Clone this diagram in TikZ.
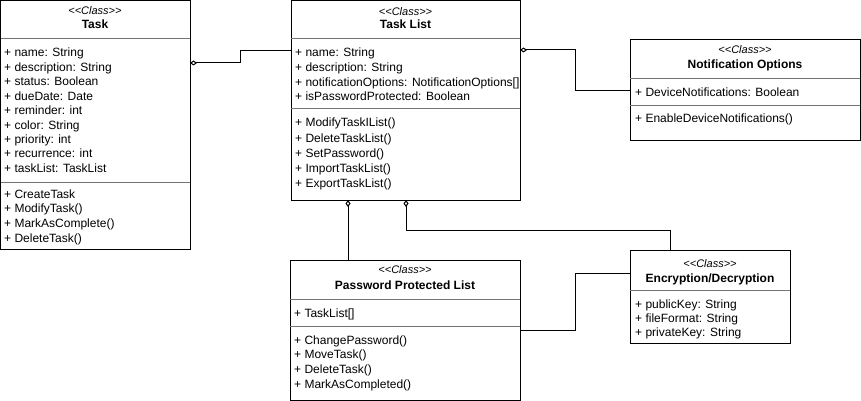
\documentclass[tikz,border=0pt]{standalone}
\usepackage{fontspec}
\setmainfont{Liberation Sans}
\usetikzlibrary{positioning,arrows.meta,calc}

\newcommand{\stclass}{<\kern0pt<Class>\kern0pt>}

\tikzset{
    classbox/.style={draw, line width=1pt, anchor=north west, inner sep=0pt, outer sep=0pt},
    compsep/.style={draw=black!55, line width=1pt},
    stereo/.style={anchor=base, inner sep=0pt, font=\fontsize{11}{13}\selectfont\itshape},
    ctitle/.style={anchor=base, inner sep=0pt, font=\fontsize{12}{14}\selectfont\bfseries},
    member/.style={anchor=base west, inner sep=0pt, font=\fontsize{12}{14}\selectfont},
    assoc/.style={draw, line width=1pt},
    aggr/.style={assoc, {Diamond[open, length=7pt, width=5pt]}-}
}

\begin{document}
\begin{tikzpicture}[x=1pt, y=-1pt]
    \useasboundingbox (0,0) rectangle (861,401);

    % Task
    \node[classbox, minimum width=189.5pt, minimum height=248.5pt] (task) at (0.5,0.5) {};
    \draw[compsep] (0.5,39) -- (190,39);
    \draw[compsep] (0.5,182) -- (190,182);
    \node[stereo] (task-st) at (95,15) {\stclass};
    \node[ctitle] (task-t) at (95,28.5) {Task};
    \foreach \m [count=\i from 0] in {name: String, description: String, status: Boolean,
        dueDate: Date, reminder: int, color: String, priority: int, recurrence: int,
        taskList: TaskList} {
        \node[member] (task-a\i) at (4,57+14.4*\i) {+ \m};
    }
    \foreach \m [count=\i from 0] in {CreateTask, ModifyTask(), MarkAsComplete(), DeleteTask()} {
        \node[member] (task-o\i) at (4,198+14.8*\i) {+ \m};
    }

    % Task List
    \node[classbox, minimum width=229pt, minimum height=199.5pt] (tasklist) at (291,0.5) {};
    \draw[compsep] (291,39) -- (520,39);
    \draw[compsep] (291,109) -- (520,109);
    \node[stereo] (tl-st) at (405.5,16) {\stclass};
    \node[ctitle] (tl-t) at (405.5,29) {Task List};
    \foreach \m [count=\i from 0] in {name: String, description: String,
        notificationOptions: NotificationOptions[], isPasswordProtected: Boolean} {
        \node[member] (tl-a\i) at (295,57+14.6*\i) {+ \m};
    }
    \foreach \m [count=\i from 0] in {ModifyTaskIList(), DeleteTaskList(), SetPassword(),
        ImportTaskList(), ExportTaskList()} {
        \node[member] (tl-o\i) at (295,127+15*\i) {+ \m};
    }

    % Notification Options
    \node[classbox, minimum width=230pt, minimum height=100pt] (notif) at (630,40) {};
    \draw[compsep] (630,79) -- (860,79);
    \draw[compsep] (630,106) -- (860,106);
    \node[stereo] (no-st) at (745,54) {\stclass};
    \node[ctitle] (no-t) at (745,69) {Notification Options};
    \node[member] (no-a0) at (635,96) {+ DeviceNotifications: Boolean};
    \node[member] (no-o0) at (635,123) {+ EnableDeviceNotifications()};

    % Password Protected List
    \node[classbox, minimum width=230pt, minimum height=140pt] (pwd) at (290,260) {};
    \draw[compsep] (290,299) -- (520,299);
    \draw[compsep] (290,326) -- (520,326);
    \node[stereo] (pw-st) at (405,273) {\stclass};
    \node[ctitle] (pw-t) at (405,289) {Password Protected List};
    \node[member] (pw-a0) at (294,317) {+ TaskList[]};
    \foreach \m [count=\i from 0] in {ChangePassword(), MoveTask(), DeleteTask(),
        MarkAsCompleted()} {
        \node[member] (pw-o\i) at (294,344+14.7*\i) {+ \m};
    }

    % Encryption/Decryption
    \node[classbox, minimum width=160pt, minimum height=93pt] (crypt) at (630,250) {};
    \draw[compsep] (630,290) -- (790,290);
    \node[stereo] (cr-st) at (710,267) {\stclass};
    \node[ctitle] (cr-t) at (710,282) {Encryption/Decryption};
    \foreach \m [count=\i from 0] in {publicKey: String, fileFormat: String, privateKey: String} {
        \node[member] (cr-a\i) at (635,308+14*\i) {+ \m};
    }

    % Connector end points on the class borders
    \coordinate (task-e) at ($(task.north east)+(0,62.5)$);
    \coordinate (tl-w) at ($(tasklist.north west)+(0,50.5)$);
    \coordinate (tl-e) at ($(tasklist.north east)+(0,49.5)$);
    \coordinate (tl-s1) at ($(tasklist.south west)+(57,0)$);
    \coordinate (tl-s2) at ($(tasklist.south west)+(115,0)$);
    \coordinate (no-w) at ($(notif.north west)+(0,51)$);
    \coordinate (pw-n) at ($(pwd.north west)+(58,0)$);
    \coordinate (pw-e) at ($(pwd.north east)+(0,70)$);
    \coordinate (cr-n) at ($(crypt.north west)+(40,0)$);
    \coordinate (cr-w) at ($(crypt.north west)+(0,23)$);

    % Associations
    \draw[aggr] (task-e) -- ++(50,0) |- (tl-w);
    \draw[aggr] (tl-e) -- ++(55,0) |- (no-w);
    \draw[aggr] (tl-s1) -- (pw-n);
    \draw[aggr] (tl-s2) -- ++(0,30) -| (cr-n);
    \draw[assoc] (pw-e) -- ++(55,0) |- (cr-w);
\end{tikzpicture}
\end{document}
